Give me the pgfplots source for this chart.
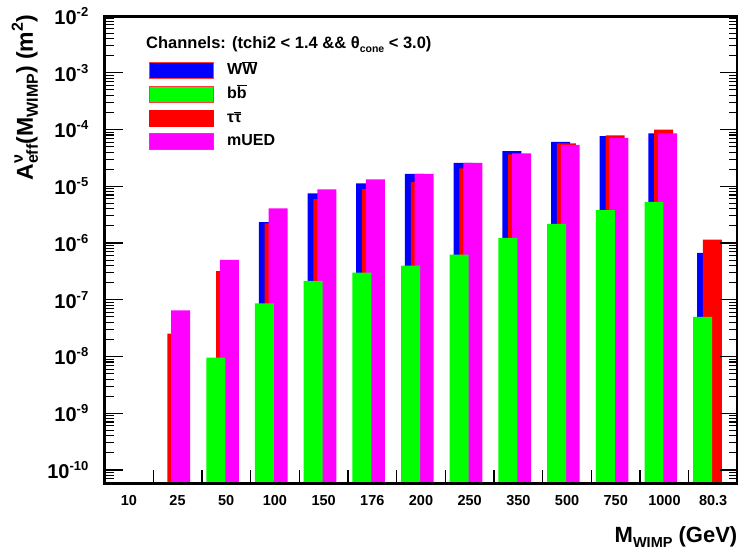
\documentclass[border=0pt]{standalone}
\usepackage{fontspec}
\setmainfont{Liberation Sans}
\usepackage{pgfplots}
\pgfplotsset{compat=1.18}
\definecolor{rblue}{RGB}{0,0,255}
\definecolor{rgreen}{RGB}{0,255,0}
\definecolor{rred}{RGB}{255,0,0}
\definecolor{rmag}{RGB}{255,0,255}
\definecolor{rborder}{RGB}{255,60,60}
\newcommand\fs[1]{\fontsize{#1}{#1}\selectfont}
\newcommand\expo[1]{\raisebox{8pt}{\fs{13}\bfseries #1}}
\newcommand\ov[1]{$\overline{\mbox{#1}}$}
\begin{document}
\begin{tikzpicture}
\useasboundingbox (-104.5pt,-69pt) rectangle (633.5pt,483pt);
\begin{axis}[
  scale only axis, width=633pt, height=467pt,
  at={(0pt,0pt)}, anchor=south west,
  ymode=log, ymin=5.9e-11, ymax=1e-2, log origin=infty,
  xmin=-0.5, xmax=12.5,
  axis on top,
  axis line style={line width=3pt},
  xtick={0.5,1.5,...,12.5},
  xticklabels={10,25,50,100,150,176,200,250,350,500,750,1000,80.3},
  ytick={1e-10,1e-9,1e-8,1e-7,1e-6,1e-5,1e-4,1e-3,1e-2},
  yticklabels={10\expo{-10},10\expo{-9},10\expo{-8},10\expo{-7},10\expo{-6},10\expo{-5},10\expo{-4},10\expo{-3},10\expo{-2}},
  tick style={draw=none},
  major tick length=0pt, minor tick length=0pt,
  yticklabel style={font=\fs{20}\bfseries, inner sep=0pt, xshift=-16pt},
  xticklabel style={font=\fs{14.5}\bfseries, inner sep=0pt, yshift=-12.5pt, xshift=-24.35pt},
  xlabel={M\raisebox{-5pt}{\fs{14.5}WIMP} (GeV)},
  xlabel style={font=\fs{22}\bfseries, at={(rel axis cs:1,0)}, anchor=base east, inner sep=0pt, yshift=-59pt},
  ylabel={A\rlap{\raisebox{10pt}{\fs{16}ν}}\raisebox{-5pt}{\fs{16}eff}(M\raisebox{-5pt}{\fs{16}WIMP}) (m\raisebox{10pt}{\fs{16}2})},
  ylabel style={font=\fs{23}\bfseries, at={(rel axis cs:-0.113,1.002)}, anchor=base east, inner sep=0pt},
  legend image code/.code={\draw[#1] (0pt,-8pt) rectangle (64pt,8pt);},
  legend cell align=left,
  legend style={at={(rel axis cs:0.0703,0.9015)}, anchor=north west, draw=none, fill=none,
    inner sep=0pt, row sep=6.7pt, font=\fs{16}\bfseries,
    nodes={inner xsep=13pt, inner ysep=0pt, text height=12pt, text depth=4pt}},
]
\addlegendimage{fill=rblue, draw=rborder, line width=1pt}
\addlegendentry{W\ov{W}}
\addlegendimage{fill=rgreen, draw=rborder, line width=1pt}
\addlegendentry{b\ov{b}}
\addlegendimage{fill=rred, draw=rred, line width=1pt}
\addlegendentry{τ\ov{τ}}
\addlegendimage{fill=rmag, draw=rborder, line width=1pt}
\addlegendentry{mUED}

% W Wbar (blue)
\addplot[ybar, bar width=0.39, bar shift=-0.135, fill=rblue, draw=none, forget plot] coordinates {
(3,2.33e-6) (4,7.46e-6) (5,1.12e-5) (6,1.65e-5) (7,2.59e-5) (8,4.16e-5) (9,6.07e-5) (10,7.65e-5) (11,8.53e-5) (12,6.68e-7)};
% tau tau (red)
\addplot[ybar, bar width=0.39, bar shift=-0.015, fill=rred, draw=none, forget plot] coordinates {
(1,2.54e-8) (2,3.18e-7) (3,2.21e-6) (4,5.92e-6) (5,8.89e-6) (6,1.18e-5) (7,2.06e-5) (8,3.64e-5) (9,5.69e-5) (10,7.87e-5) (11,1.00e-4) (12,1.15e-6)};
% mUED (magenta)
\addplot[ybar, bar width=0.39, bar shift=0.065, fill=rmag, draw=none, forget plot] coordinates {
(1,6.53e-8) (2,5.04e-7) (3,4.06e-6) (4,8.79e-6) (5,1.32e-5) (6,1.65e-5) (7,2.59e-5) (8,3.79e-5) (9,5.37e-5) (10,7.14e-5) (11,8.53e-5)};
% b bbar (green)
\addplot[ybar, bar width=0.39, bar shift=-0.215, fill=rgreen, draw=none, forget plot] coordinates {
(2,9.55e-9) (3,8.67e-8) (4,2.15e-7) (5,3.02e-7) (6,4.01e-7) (7,6.27e-7) (8,1.23e-6) (9,2.17e-6) (10,3.79e-6) (11,5.31e-6) (12,4.97e-8)};

\node[anchor=west, font=\fs{16.5}\bfseries, inner sep=0pt] at (rel axis cs:0.0656,0.938)
  {Channels: (tchi2 < 1.4 \&\& θ\raisebox{-4pt}{\fs{10.5}cone} < 3.0)};
\end{axis}
% ROOT-style tick marks (inside, on both vertical sides; axis box is 633pt x 467pt,
% log10(ymin) = -10.2291, one decade = 56.75pt)
\foreach \e in {-10,...,-2}{
  \pgfmathsetmacro\yy{(\e+10.2291)*56.75}
  \draw[line width=1.3pt] (0pt,\yy pt) -- ++(18pt,0pt);
  \draw[line width=1.3pt] (633pt,\yy pt) -- ++(-18pt,0pt);
}
\foreach \e in {-10,...,-3}{
  \foreach \m in {2,...,9}{
    \pgfmathsetmacro\yy{(\e+log10(\m)+10.2291)*56.75}
    \draw[line width=1.1pt] (0pt,\yy pt) -- ++(9pt,0pt);
    \draw[line width=1.1pt] (633pt,\yy pt) -- ++(-9pt,0pt);
  }
}
\foreach \m in {6,...,9}{
  \pgfmathsetmacro\yy{(-11+log10(\m)+10.2291)*56.75}
  \draw[line width=1.1pt] (0pt,\yy pt) -- ++(9pt,0pt);
  \draw[line width=1.1pt] (633pt,\yy pt) -- ++(-9pt,0pt);
}
\foreach \k in {1,...,12}{
  \draw[line width=1.3pt] ({\k*48.6923pt},0pt) -- ++(0pt,13pt);
}
\end{tikzpicture}
\end{document}
